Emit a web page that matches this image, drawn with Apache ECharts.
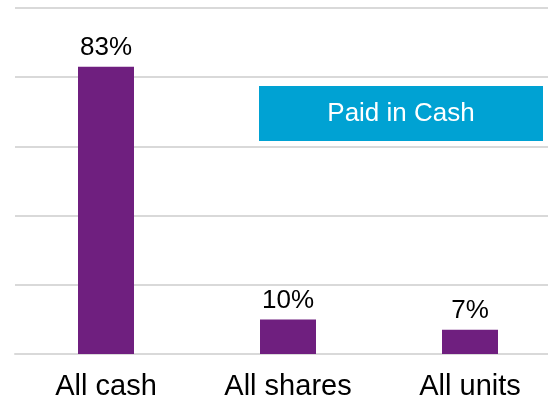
<!DOCTYPE html>
<html>
<head>
<meta charset="utf-8">
<style>html,body{margin:0;padding:0;background:#fff;}#c{width:548px;height:404px;}</style>
<script src="https://cdn.jsdelivr.net/npm/echarts@6/dist/echarts.min.js"></script>
</head>
<body>
<div id="c"></div>
<script>
const categories = ['All cash', 'All shares', 'All units'];
const values = [83, 10, 7];
const boxText = 'Paid in Cash';

const chart = echarts.init(document.getElementById('c'), null, {renderer: 'canvas'});
chart.setOption({
  animation: false,
  grid: {left: 15, width: 546, top: 8, bottom: 50, containLabel: false, outerBoundsMode: 'none'},
  xAxis: {
    type: 'category',
    data: categories,
    axisLine: {show: true, lineStyle: {color: '#D9D9D9', width: 2}},
    axisTick: {show: false},
    axisLabel: {color: '#000', fontSize: 29, fontFamily: 'Liberation Sans, Arial, sans-serif', margin: 18}
  },
  yAxis: {
    type: 'value', min: 0, max: 100, interval: 20,
    axisLabel: {show: false},
    axisLine: {show: false}, axisTick: {show: false},
    splitLine: {lineStyle: {color: '#D9D9D9', width: 2}}
  },
  series: [{
    type: 'bar',
    data: values,
    barWidth: 56,
    itemStyle: {color: '#6F1F7F'},
    label: {
      show: true, position: 'top', distance: 6,
      formatter: p => p.value + '%',
      color: '#000', fontSize: 26, fontFamily: 'Liberation Sans, Arial, sans-serif'
    }
  }],
  graphic: [{
    type: 'rect', left: 259, top: 86,
    shape: {width: 284, height: 55},
    style: {fill: '#00A2D3'},
    textContent: {
      style: {
        text: boxText, fill: '#fff', fontSize: 26,
        fontFamily: 'Liberation Sans, Arial, sans-serif'
      }
    },
    textConfig: {position: 'inside'}
  }]
});
</script>
</body>
</html>
